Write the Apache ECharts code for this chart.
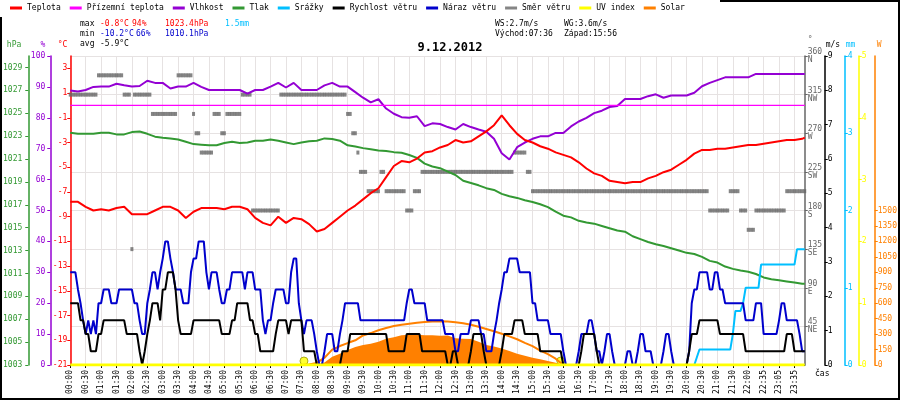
<!DOCTYPE html>
<html><head><meta charset="utf-8">
<script src="https://cdn.jsdelivr.net/npm/echarts@6/dist/echarts.min.js"></script>
<style>html,body{margin:0;padding:0;background:#fff}#c{width:900px;height:400px}</style>
</head><body><div id="c"></div>
<script>
const FONT = 'DejaVu Sans Mono';
// 5-minute records for 9.12.2012; the 22:05 record is missing
const missingTimes = ['22:05'];
const times = [];
for (let m = 0; m < 1440; m += 5) {
  const t = String(Math.floor(m / 60)).padStart(2, '0') + ':' + String(m % 60).padStart(2, '0');
  if (!missingTimes.includes(t)) times.push(t);
}

// every 3rd record (approx. 15 min) + last record
const temperature = [
  -7.8,-7.8,-8.2,-8.5,-8.4,-8.5,-8.3,-8.2,
  -8.8,-8.8,-8.8,-8.5,-8.2,-8.2,-8.5,-9.1,
  -8.6,-8.3,-8.3,-8.3,-8.4,-8.2,-8.2,-8.4,
  -9.1,-9.5,-9.7,-9.0,-9.5,-9.1,-9.2,-9.6,
  -10.2,-10.0,-9.5,-9.0,-8.5,-8.1,-7.6,-7.1,
  -6.7,-5.8,-4.9,-4.5,-4.6,-4.3,-3.8,-3.7,
  -3.4,-3.2,-2.8,-3.0,-2.9,-2.5,-2.1,-1.6,
  -0.8,-1.6,-2.3,-2.8,-3.0,-3.3,-3.5,-3.8,
  -4.0,-4.2,-4.6,-5.1,-5.5,-5.7,-6.1,-6.2,
  -6.3,-6.2,-6.2,-5.9,-5.7,-5.4,-5.2,-4.8,
  -4.4,-3.9,-3.6,-3.6,-3.5,-3.5,-3.4,-3.3,
  -3.2,-3.2,-3.1,-3.0,-2.9,-2.8,-2.8,-2.7,
  -2.6
];
const humidity = [
  88.8,88.5,89.0,90.0,90.1,90.1,91.0,90.5,
  90.1,90.3,92.0,91.3,91.3,89.5,90.1,90.1,
  91.3,90.0,89.0,89.0,89.0,89.0,89.0,87.8,
  89.0,89.0,90.1,91.3,89.8,91.3,89.0,89.0,
  89.0,90.5,91.3,90.1,90.1,88.3,86.5,85.0,
  86.0,83.0,81.3,80.2,80.0,80.5,77.3,78.2,
  78.0,77.0,76.2,78.0,77.0,76.2,75.5,73.2,
  68.5,66.5,70.5,72.0,73.2,74.0,74.0,75.1,
  75.1,77.2,78.8,80.0,81.5,82.3,83.5,83.8,
  86.1,86.1,86.1,87.0,87.6,86.5,87.2,87.2,
  87.2,88.1,90.2,91.3,92.2,93.1,93.1,93.1,
  93.1,94.2,94.2,94.2,94.2,94.2,94.2,94.2,
  94.2
];
const pressure = [
  1023.3,1023.2,1023.2,1023.2,1023.3,1023.3,1023.15,1023.15,
  1023.35,1023.4,1023.2,1022.95,1022.85,1022.8,1022.7,1022.5,
  1022.3,1022.25,1022.2,1022.2,1022.4,1022.5,1022.4,1022.45,
  1022.6,1022.6,1022.7,1022.6,1022.45,1022.3,1022.45,1022.55,
  1022.6,1022.8,1022.75,1022.6,1022.2,1022.1,1021.95,1021.85,
  1021.75,1021.7,1021.6,1021.55,1021.35,1021.1,1020.6,1020.35,
  1020.2,1019.9,1019.6,1019.1,1018.9,1018.7,1018.45,1018.3,
  1017.95,1017.75,1017.6,1017.4,1017.25,1017.05,1016.8,1016.4,
  1016.05,1015.9,1015.6,1015.45,1015.35,1015.15,1014.95,1014.75,
  1014.65,1014.25,1014.0,1013.75,1013.55,1013.4,1013.2,1013.0,
  1012.8,1012.7,1012.45,1012.1,1011.95,1011.6,1011.4,1011.25,
  1011.15,1010.95,1010.65,1010.5,1010.4,1010.3,1010.2,1010.1,
  1010.1
];
// hourly samples
const groundTemp = [0,0,0,0,0,0,0,0,0,0,0,0,0,0,0,0,0,0,0,0,0,0,0,0,0];
const uvIndex    = [0,0,0,0,0,0,0,0,0,0,0,0,0,0,0,0,0,0,0,0,0,0,0,0,0];

// every 5-minute record (m/s)
const windSpeed = [
  1.8,1.8,1.8,1.8,1.3,1.3,0.9,0.9,0.4,0.4,0.4,0.9,
  0.9,1.3,1.3,1.3,1.3,1.3,1.3,1.3,1.3,1.3,0.9,0.9,
  0.9,0.9,0.9,0.4,0,0.4,0.9,1.3,1.8,1.8,1.8,1.3,
  2.2,2.2,2.7,2.7,2.7,2.2,1.3,0.9,0.9,0.9,0.9,0.9,
  1.3,1.3,1.3,1.3,1.3,1.3,1.3,1.3,1.3,1.3,1.3,0.9,
  0.9,0.9,0.9,1.3,1.3,1.8,1.8,1.8,1.8,1.8,1.3,1.3,
  0.9,0.9,0.4,0.4,0.4,0.4,0.4,0.4,0.9,1.3,1.3,1.3,
  1.3,0.9,1.3,1.3,1.3,1.3,1.3,0.4,0.4,0.4,0.4,0.4,
  0,0,0,0,0,0,0,0,0,0,0.4,0.4,
  0.4,0.9,0.9,0.9,0.9,0.9,0.9,0.9,0.9,0.9,0.9,0.9,
  0.9,0.9,0.9,0.9,0.4,0.4,0.4,0.4,0.4,0.4,0.4,0.9,
  0.9,0.9,0.9,0.9,0.9,0.4,0.4,0.4,0.4,0.4,0.4,0.4,
  0.4,0.4,0.4,0,0,0.4,0.4,0,0,0,0,0,
  0.4,0.9,0.9,0.9,0.9,0.4,0,0,0,0,0,0,
  0.4,0.9,0.9,0.9,0.9,1.3,1.3,1.3,1.3,0.9,0.9,0.9,
  0.9,0.9,0.9,0.4,0.4,0.4,0.4,0.4,0.4,0.4,0.4,0.4,
  0,0,0,0,0,0,0,0.4,0.9,0.9,0.9,0.9,
  0.9,0.4,0,0,0,0,0,0,0,0,0,0,
  0,0,0,0,0,0,0,0,0,0,0,0,
  0,0,0,0,0,0,0,0,0,0,0,0,
  0,0.4,0.9,0.9,0.9,1.3,1.3,1.3,1.3,1.3,1.3,1.3,
  1.3,0.9,0.9,0.9,0.9,0.9,0.9,0.9,0.9,0.9,0.9,0.4,
  0.4,0.4,0.4,0.4,0.4,0.4,0.4,0.4,0.4,0.4,0.4,
  0.4,0.4,0.4,0.4,0.9,0.9,0.9,0.4,0.4,0.4,0.4,0.4
];
const windGust = [
  2.7,2.7,2.7,2.2,1.8,1.3,0.9,1.3,0.9,1.3,0.9,1.8,
  1.8,2.2,2.2,2.2,1.8,1.8,1.8,2.2,2.2,2.2,2.2,2.2,
  2.2,1.8,1.8,1.3,0.9,0.9,1.8,2.2,2.7,2.7,2.2,2.7,
  3.1,3.6,3.6,3.1,2.7,2.2,2.2,2.2,1.8,1.8,1.8,2.7,
  3.1,3.1,3.6,3.6,3.6,2.7,2.2,2.7,2.7,2.7,2.2,1.8,
  1.8,2.2,2.2,2.7,2.7,2.7,2.7,2.7,2.2,2.7,2.7,2.7,
  2.2,2.2,2.2,1.3,0.9,1.3,1.3,1.8,2.2,2.2,2.2,2.2,
  1.8,1.8,2.7,3.1,3.1,1.8,1.3,0.9,1.3,1.3,1.3,0.9,
  0.4,0,0,0.4,0.9,0.9,0.9,0.4,0.4,0.9,1.3,1.8,
  1.8,1.8,1.8,1.8,1.8,1.3,1.3,1.3,1.3,1.3,1.3,1.3,
  1.3,1.3,1.3,1.3,1.3,1.3,1.3,1.3,1.3,1.3,1.3,1.8,
  2.2,2.2,1.8,1.8,1.8,1.8,1.8,1.3,1.3,1.3,1.3,1.3,
  1.3,1.3,0.9,0.9,0.9,0.9,0.4,0.4,0.9,0.9,0.9,0.9,
  1.3,1.3,1.3,1.3,0.9,0.9,0.4,0.4,0.4,0.9,1.3,1.8,
  2.2,2.7,2.7,3.1,3.1,3.1,3.1,2.7,2.7,2.7,2.7,2.7,
  1.8,1.8,1.3,1.3,1.3,1.3,1.3,0.9,0.9,0.9,0.9,0.9,
  0.4,0,0,0,0,0,0.4,0.9,0.9,0.9,1.3,1.3,
  0.9,0.4,0.4,0,0.4,0.9,0.9,0.4,0,0,0,0,
  0,0.4,0.4,0,0,0.4,0.9,0.9,0.4,0.4,0.4,0,
  0,0,0,0.4,0.9,0.9,0.4,0,0,0,0,0,
  0,0.4,1.8,2.2,2.2,2.7,2.7,2.7,2.7,2.2,2.2,2.7,
  2.7,2.2,2.2,1.8,1.8,1.8,1.8,1.8,1.8,1.8,1.8,1.3,
  1.3,1.3,1.3,1.8,1.8,1.8,0.9,0.9,0.9,0.9,0.9,
  0.9,1.3,1.8,1.8,1.3,1.3,1.3,1.3,1.3,0.9,0.4,0.4
];
const windDir = [
  315,315,315,315,315,315,315,315,315,315,315,337.5,
  337.5,337.5,337.5,337.5,337.5,337.5,337.5,337.5,337.5,315,315,315,
  135,315,315,315,315,315,315,315,292.5,292.5,292.5,292.5,
  292.5,292.5,292.5,292.5,292.5,292.5,337.5,337.5,337.5,337.5,337.5,337.5,
  292.5,270,270,247.5,247.5,247.5,247.5,247.5,292.5,292.5,292.5,270,
  270,292.5,292.5,292.5,292.5,292.5,292.5,315,315,315,315,180,
  180,180,180,180,180,180,180,180,180,180,315,315,
  315,315,315,315,315,315,315,315,315,315,315,315,
  315,315,315,315,315,315,315,315,315,315,315,315,
  292.5,292.5,270,270,247.5,225,225,225,202.5,202.5,202.5,202.5,
  202.5,225,225,202.5,202.5,202.5,202.5,202.5,202.5,202.5,202.5,180,
  180,180,202.5,202.5,202.5,225,225,225,225,225,225,225,
  225,225,225,225,225,225,225,225,225,225,225,225,
  225,225,225,225,225,225,225,225,225,225,225,225,
  225,225,225,225,225,247.5,247.5,247.5,247.5,247.5,225,225,
  202.5,202.5,202.5,202.5,202.5,202.5,202.5,202.5,202.5,202.5,202.5,202.5,
  202.5,202.5,202.5,202.5,202.5,202.5,202.5,202.5,202.5,202.5,202.5,202.5,
  202.5,202.5,202.5,202.5,202.5,202.5,202.5,202.5,202.5,202.5,202.5,202.5,
  202.5,202.5,202.5,202.5,202.5,202.5,202.5,202.5,202.5,202.5,202.5,202.5,
  202.5,202.5,202.5,202.5,202.5,202.5,202.5,202.5,202.5,202.5,202.5,202.5,
  202.5,202.5,202.5,202.5,202.5,202.5,202.5,202.5,202.5,180,180,180,
  180,180,180,180,180,202.5,202.5,202.5,202.5,180,180,180,
  157.5,157.5,157.5,180,180,180,180,180,180,180,180,
  180,180,180,180,202.5,202.5,202.5,202.5,202.5,202.5,202.5,202.5
];
// cumulative rain (mm), 5-minute records from 20:15
const rainStart = '20:15';
const rain = [
  0,0.1,0.2,0.2,0.2,0.2,0.2,0.2,0.2,0.2,0.2,0.2,0.2,0.2,0.2,0.4,0.7,0.7,0.7,0.8,
  1.0,1.0,1.0,1.0,1.0,1.0,1.3,1.3,1.3,1.3,1.3,1.3,1.3,1.3,1.3,1.3,1.3,1.3,1.3,1.3,
  1.5,1.5,1.5,1.5
];
// solar radiation (W/m2), every 3rd record from 07:30
const solarStart = '07:30';
const solarMeasured = [
  0,0,5,25,80,110,145,175,195,207,225,255,270,288,294,294,290,290,
  285,286,260,255,252,225,195,180,160,135,110,90,70,55,40,22,0
];
const solarMax = [
  0,5,20,71,149,184,213,240,287,310,337,359,378,391,401,410,417,423,
  425,422,416,405,391,372,350,328,304,278,250,215,183,140,105,61,0
];
const sunEvents = ['07:36', '15:56'];
const compass = {360:'N',315:'NW',270:'W',225:'SW',180:'S',135:'SE',90:'E',45:'NE'};
const solarTicks = [0,150,300,450,600,750,900,1050,1200,1350,1500];

const last = times.length - 1;
const every3 = a => a.map((v, i) => [Math.min(i * 3, last), v]);
const hourly = a => a.map((v, i) => [Math.min(i * 12, last), v]);
const from = (start, step, a) => { const s = times.indexOf(start); return a.map((v, i) => [s + i * step, v]); };
const timeIdx = t => { const p = t.split(':'); return Math.round((+p[0] * 60 + +p[1]) / 5); };

const C = {
  temp:'#ff0000', ground:'#ff00ff', hum:'#9400d3', pres:'#339933', rain:'#00bfff',
  wind:'#000000', gust:'#0000cc', dir:'#666666', uv:'#ffff00', solar:'#ff8000'
};
const plain = v => String(v);
const lab = (color, margin) => ({color, fontFamily:FONT, fontSize:8, margin, formatter:plain});
const nm = (color, align, pad) => ({color, fontFamily:FONT, fontSize:8, align, verticalAlign:'bottom', padding:pad});

function yAxis(o) {
  return Object.assign({
    type:'value', splitLine:{show:false},
    axisLine:{show:true, lineStyle:{color:o.color, width:1.5}},
    axisTick:{show:true, length:3, lineStyle:{color:o.color}},
    nameLocation:'end', nameGap:7
  }, o.cfg);
}
const TXT = '8px "DejaVu Sans Mono"';
const txt = (x, y, text, fill) => ({type:'text', left:x, top:y, silent:true, style:{text, fill, font:TXT}});

const chart = echarts.init(document.getElementById('c'), null, {renderer:'canvas'});
chart.setOption({
  animation:false,
  backgroundColor:'#ffffff',
  title:{text:'9.12.2012', left:'center', top:37, textStyle:{fontFamily:FONT, fontSize:12, fontWeight:'bold', color:'#000'}},
  legend:{
    top:4, left:10, padding:0, icon:'rect', itemWidth:12, itemHeight:3, itemGap:9,
    textStyle:{fontFamily:FONT, fontSize:8, color:'#000'},
    data:['Teplota','Přízemní teplota','Vlhkost','Tlak','Srážky','Rychlost větru','Náraz větru','Směr větru','UV index','Solar']
  },
  grid:{left:70, right:94, top:56, bottom:35, containLabel:false},
  xAxis:{
    type:'category', data:times, boundaryGap:false,
    axisLine:{show:true, onZero:false, lineStyle:{color:'#000'}},
    axisTick:{show:true, interval:5, length:3, lineStyle:{color:'#000'}},
    axisLabel:{interval:5, rotate:90, fontFamily:FONT, fontSize:8, color:'#000', margin:5},
    splitLine:{show:true, interval:5, lineStyle:{color:'#e6e2e2', width:1}}
  },
  yAxis:[
    yAxis({color:C.temp, cfg:{position:'left', offset:0, min:-21, max:4, interval:2,
      axisLabel:Object.assign(lab(C.temp,3), {showMaxLabel:false}), name:'°C', nameTextStyle:nm(C.temp,'right',[0,3,0,0])}}),
    yAxis({color:C.hum, cfg:{position:'left', offset:20, min:0, max:100, interval:10,
      axisLabel:lab(C.hum,5), name:'%', nameTextStyle:nm(C.hum,'right',[0,5,0,0])}}),
    yAxis({color:C.pres, cfg:{position:'left', offset:42, min:1003, max:1030, interval:2,
      axisLabel:Object.assign(lab(C.pres,6), {showMaxLabel:false}), name:'hPa', nameTextStyle:nm(C.pres,'right',[0,7,0,0])}}),
    yAxis({color:C.dir, cfg:{position:'right', offset:0, min:0, max:360, interval:45,
      splitLine:{show:true, lineStyle:{color:'#e6e2e2', width:1}},
      axisLabel:Object.assign(lab(C.dir,3), {showMinLabel:false, lineHeight:8, padding:[8,0,0,0],
        formatter:v => v + '\n' + (compass[v] || '')}),
      name:'°', nameTextStyle:nm(C.dir,'left',[0,0,0,3])}}),
    yAxis({color:C.wind, cfg:{position:'right', offset:20, min:0, max:9, interval:1,
      axisLabel:lab(C.wind,3), name:'m/s', nameTextStyle:nm(C.wind,'left',[0,0,0,1])}}),
    yAxis({color:C.rain, cfg:{position:'right', offset:40, min:0, max:4, interval:1,
      axisLabel:lab(C.rain,3), name:'mm', nameTextStyle:nm(C.rain,'left',[0,0,0,1])}}),
    yAxis({color:C.uv, cfg:{position:'right', offset:54, min:0, max:5, interval:1,
      axisLabel:lab(C.uv,3)}}),
    yAxis({color:C.solar, cfg:{position:'right', offset:70, min:0, max:3000,
      axisTick:{show:true, length:3, lineStyle:{color:C.solar}, customValues:solarTicks},
      axisLabel:Object.assign(lab(C.solar,3), {customValues:solarTicks}),
      name:'W', nameTextStyle:nm(C.solar,'left',[0,0,0,2])}})
  ],
  series:[
    {name:'Solar', type:'line', yAxisIndex:7, data:from(solarStart,3,solarMeasured), showSymbol:false,
      color:C.solar, lineStyle:{width:0}, areaStyle:{color:C.solar, opacity:1}},
    {name:'Solar', type:'line', yAxisIndex:7, data:from(solarStart,3,solarMax), showSymbol:false,
      color:C.solar, lineStyle:{width:2, color:C.solar}},
    {name:'Tlak', type:'line', yAxisIndex:2, data:every3(pressure), showSymbol:false,
      color:C.pres, lineStyle:{width:2}},
    {name:'Vlhkost', type:'line', yAxisIndex:1, data:every3(humidity), showSymbol:false,
      color:C.hum, lineStyle:{width:2}},
    {name:'Přízemní teplota', type:'line', yAxisIndex:0, data:hourly(groundTemp), showSymbol:false,
      color:C.ground, lineStyle:{width:1.2}},
    {name:'Teplota', type:'line', yAxisIndex:0, data:every3(temperature), showSymbol:false,
      color:C.temp, lineStyle:{width:2}},
    {name:'Směr větru', type:'scatter', yAxisIndex:3, data:windDir.map((v,i)=>[i,v]),
      symbol:'rect', symbolSize:[3,4], color:C.dir, itemStyle:{color:C.dir}},
    {name:'Srážky', type:'line', yAxisIndex:5, data:from(rainStart,1,rain), showSymbol:false,
      color:C.rain, lineStyle:{width:2}},
    {name:'Náraz větru', type:'line', yAxisIndex:4, data:windGust.map((v,i)=>[i,v]), showSymbol:false,
      color:C.gust, lineStyle:{width:2}},
    {name:'Rychlost větru', type:'line', yAxisIndex:4, data:windSpeed.map((v,i)=>[i,v]), showSymbol:false,
      color:C.wind, lineStyle:{width:2}},
    {name:'UV index', type:'line', yAxisIndex:6, data:hourly(uvIndex), showSymbol:false,
      color:C.uv, lineStyle:{width:3}},
    {name:'UV index', type:'scatter', yAxisIndex:6, data:sunEvents.map(t=>[timeIdx(t),0]),
      symbol:'circle', symbolSize:8, symbolOffset:[0,-4], color:C.uv,
      itemStyle:{color:C.uv, borderColor:'#999900', borderWidth:1}}
  ],
  graphic:[
    {type:'polyline', silent:true, z:100, shape:{points:[[720,1],[899,1],[899,399],[1,399],[1,17]]},
      style:{stroke:'#000', lineWidth:2, fill:null}},
    txt(80, 20, 'max', '#000'),
    txt(100, 20, '-0.8°C', '#ff0000'),
    txt(132, 20, '94%', '#ff0000'),
    txt(165, 20, '1023.4hPa', '#ff0000'),
    txt(225, 20, '1.5mm', '#00bfff'),
    txt(80, 30, 'min', '#000'),
    txt(100, 30, '-10.2°C', '#0000cc'),
    txt(136, 30, '66%', '#0000cc'),
    txt(165, 30, '1010.1hPa', '#0000cc'),
    txt(80, 40, 'avg', '#000'),
    txt(100, 40, '-5.9°C', '#000'),
    txt(495, 20, 'WS:2.7m/s', '#000'),
    txt(564, 20, 'WG:3.6m/s', '#000'),
    txt(495, 30, 'Východ:07:36', '#000'),
    txt(564, 30, 'Západ:15:56', '#000'),
    txt(815, 370, 'čas', '#000')
  ]
});
</script>
</body></html>
